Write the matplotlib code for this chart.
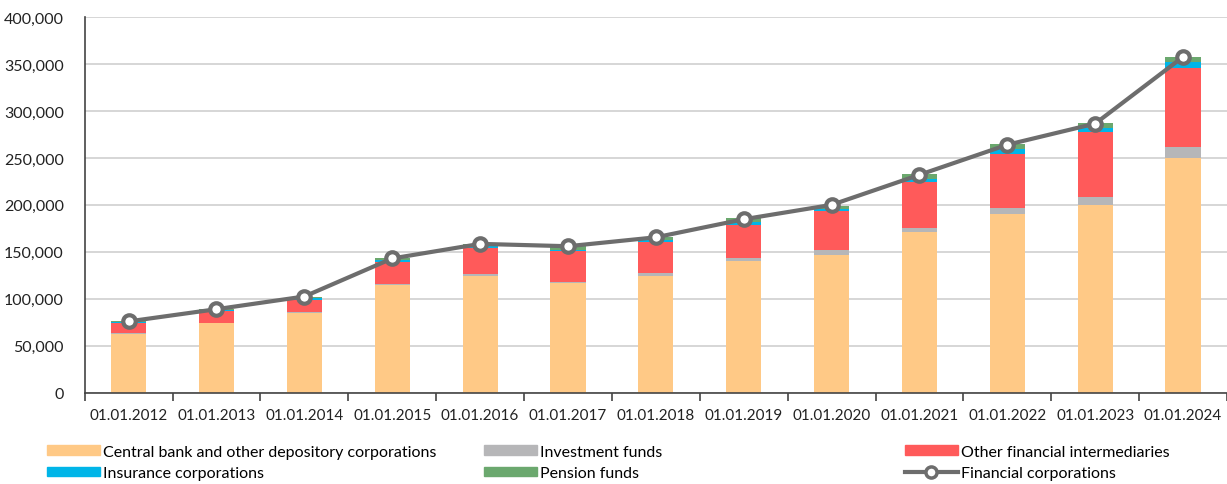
import numpy as np
import matplotlib.pyplot as plt
from matplotlib.ticker import FuncFormatter, FixedLocator
from matplotlib.lines import Line2D
from matplotlib.patches import Patch

plt.rcParams['font.family'] = ['Lato', 'DejaVu Sans']

years = ['01.01.2012', '01.01.2013', '01.01.2014', '01.01.2015', '01.01.2016',
         '01.01.2017', '01.01.2018', '01.01.2019', '01.01.2020', '01.01.2021',
         '01.01.2022', '01.01.2023', '01.01.2024']

# values in millions
central_bank = [63000, 74000, 84700, 114500, 124800, 116700, 124800, 140700, 146800, 171000, 190400, 200300, 250000]
investment = [800, 800, 800, 1200, 1800, 1700, 2500, 3300, 5200, 4500, 6600, 8200, 12000]
other_fi = [11000, 12000, 13500, 24000, 27500, 32300, 32700, 35000, 41000, 48500, 57600, 68800, 83700]
insurance = [800, 1200, 1500, 1500, 2000, 1800, 2800, 2600, 2700, 4000, 5000, 4300, 6800]
pension = [900, 1200, 1800, 1800, 2500, 3500, 3200, 4200, 3300, 4600, 5000, 5400, 5300]
financial_corps = [76000, 89000, 102500, 143000, 158500, 156000, 165500, 184700, 200000, 232000, 264000, 286500, 357500]

series = [
    ('Central bank and other depository corporations', central_bank, '#FFC986'),
    ('Investment funds', investment, '#B6B6B8'),
    ('Other financial intermediaries', other_fi, '#FF5A5A'),
    ('Insurance corporations', insurance, '#00B5E8'),
    ('Pension funds', pension, '#6BA86E'),
]

fig = plt.figure(figsize=(12.27, 4.85), dpi=100)
ax = fig.add_axes([0.069, 0.188, 0.931, 0.775])

x = np.arange(len(years))
bottom = np.zeros(len(years))
for name, vals, col in series:
    ax.bar(x, vals, 0.4, bottom=bottom, color=col, label=name, zorder=2)
    bottom += np.array(vals)

line_color = '#6D6D6D'
ax.plot(x, financial_corps, color=line_color, lw=3, marker='o', ms=9,
        mfc='white', mec=line_color, mew=3, zorder=3)

ax.set_xlim(-0.5, len(years) - 0.5)
ax.set_ylim(0, 400000)
ax.set_yticks(np.arange(0, 400001, 50000))
ax.yaxis.set_major_formatter(FuncFormatter(lambda v, p: f'{int(v):,}'))
ax.grid(axis='y', color='#CFCFCF', lw=1.2, zorder=0)
ax.set_axisbelow(True)

ax.set_xticks(x)
ax.set_xticklabels(years)
ax.xaxis.set_minor_locator(FixedLocator(np.arange(-0.5, len(years), 1)))
ax.tick_params(axis='x', which='major', length=0, pad=11, labelsize=11, colors='#222222')
ax.tick_params(axis='x', which='minor', length=6, width=1.2, color='#444444')
ax.tick_params(axis='y', length=0, pad=15, labelsize=11.5, colors='#222222')

for s in ['top', 'right']:
    ax.spines[s].set_visible(False)
ax.spines['left'].set_color('#444444')
ax.spines['bottom'].set_color('#444444')
ax.spines['left'].set_linewidth(1.2)
ax.spines['bottom'].set_linewidth(1.2)

# legend in three columns
legend_cols = [
    [series[0], series[3]],
    [series[1], series[4]],
    [series[2], None],
]
col_x = [0.032, 0.388, 0.731]
for cx, items in zip(col_x, legend_cols):
    handles, labels = [], []
    for it in items:
        if it is None:
            handles.append(Line2D([0], [0], color=line_color, lw=3, marker='o', ms=8,
                                  mfc='white', mec=line_color, mew=2.5))
            labels.append('Financial corporations')
        else:
            handles.append(Patch(color=it[2]))
            labels.append(it[0])
    fig.legend(handles, labels, loc='upper left', bbox_to_anchor=(cx, 0.097),
               frameon=False, fontsize=11.5, handlelength=3.3, handleheight=0.55,
               handletextpad=0.2, labelspacing=0.45, borderpad=0)

fig.savefig('out.png', dpi=100)
